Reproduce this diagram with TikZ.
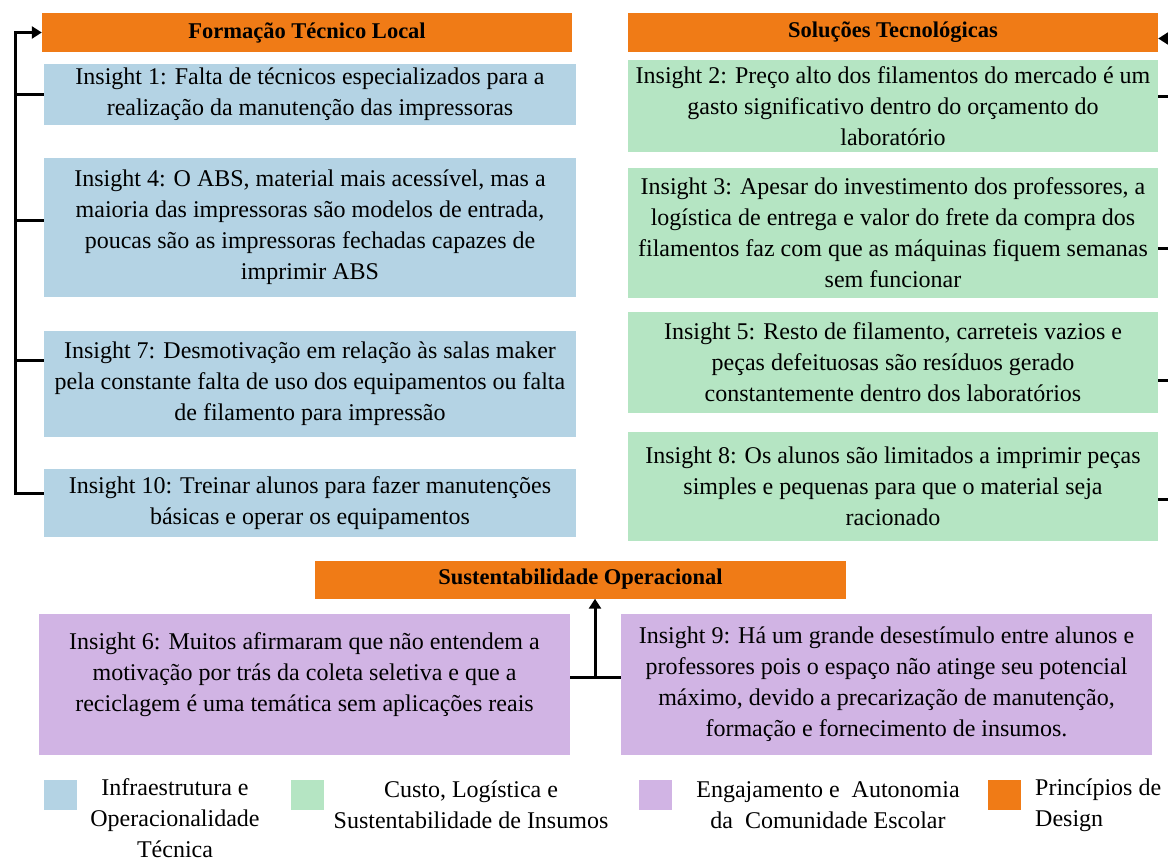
\documentclass[tikz,border=0pt]{standalone}
\usepackage{fontspec}
\setmainfont{Liberation Serif}
\usetikzlibrary{arrows.meta,calc}
\definecolor{cblue}{RGB}{180,211,228}
\definecolor{cgreen}{RGB}{181,229,195}
\definecolor{cpurple}{RGB}{209,180,228}
\definecolor{corange}{RGB}{240,123,22}
\begin{document}
\begin{tikzpicture}[x=1pt,y=-1pt,
 box/.style={fill=#1, inner sep=0pt, align=center, font=\fontsize{24}{31}\selectfont},
 btext/.style={inner sep=0pt, align=center, font=\fontsize{24}{31}\selectfont},
 hdr/.style={fill=corange, inner sep=0pt, minimum height=39pt, font=\fontsize{22.5}{26}\selectfont\bfseries},
 lsq/.style={fill=#1, inner sep=0pt, minimum width=33pt, minimum height=30pt},
 ltext/.style={inner sep=0pt, font=\fontsize{24}{31}\selectfont},
 conn/.style={line width=3pt},
 arr/.style={conn,-{Triangle[length=10pt,width=12pt]}}
]
\useasboundingbox (0,0) rectangle (1168,859);
% headers
\node[hdr, minimum width=530pt] (h1) at (307,32.5) {Formação Técnico Local};
\node[hdr, minimum width=530pt] (h2) at (893,32.5) {Soluções Tecnológicas};
\node[hdr, minimum width=531pt, minimum height=38pt] (h3) at (580.5,579.5) {Sustentabilidade Operacional};
% blue
\node[box=cblue, minimum width=532pt, minimum height=61pt] (b1) at (310,94.5) {Insight 1: Falta de técnicos especializados para a\\realização da manutenção das impressoras};
\node[box=cblue, minimum width=532pt, minimum height=139pt] (b4) at (310,227.5) {Insight 4: O ABS, material mais acessível, mas a\\maioria das impressoras são modelos de entrada,\\poucas são as impressoras fechadas capazes de\\imprimir ABS};
\node[box=cblue, minimum width=532pt, minimum height=106pt] (b7) at (310,384) {Insight 7: Desmotivação em relação às salas maker\\pela constante falta de uso dos equipamentos ou falta\\de filamento para impressão};
\node[box=cblue, minimum width=532pt, minimum height=68pt] (b10) at (310,503) {Insight 10: Treinar alunos para fazer manutenções\\básicas e operar os equipamentos};
% green
\node[box=cgreen, minimum width=530pt, minimum height=92pt] (g2) at (893,106) {Insight 2: Preço alto dos filamentos do mercado é um\\gasto significativo dentro do orçamento do\\laboratório};
\node[box=cgreen, minimum width=530pt, minimum height=130pt] (g3) at (893,233) {Insight 3: Apesar do investimento dos professores, a\\logística de entrega e valor do frete da compra dos\\filamentos faz com que as máquinas fiquem semanas\\sem funcionar};
\node[box=cgreen, minimum width=530pt, minimum height=101pt] (g5) at (893,362.5) {Insight 5: Resto de filamento, carreteis vazios e\\peças defeituosas são resíduos gerado\\constantemente dentro dos laboratórios};
\node[box=cgreen, minimum width=530pt, minimum height=109pt] (g8) at (893,486.5) {Insight 8: Os alunos são limitados a imprimir peças\\simples e pequenas para que o material seja\\racionado};
% purple
\node[box=cpurple, minimum width=531pt, minimum height=141pt] (p6) at (304.5,684.5) {};
\node[btext] (p6t) at (304.5,675) {Insight 6: Muitos afirmaram que não entendem a\\motivação por trás da coleta seletiva e que a\\reciclagem é uma temática sem aplicações reais};
\node[box=cpurple, minimum width=531pt, minimum height=141pt] (p9) at (886.5,684.5) {Insight 9: Há um grande desestímulo entre alunos e\\professores pois o espaço não atinge seu potencial\\máximo, devido a precarização de manutenção,\\formação e fornecimento de insumos.};
% left connectors
\coordinate (ltop) at (15,32.5);
\coordinate (lbot) at (15,493);
\draw[arr] ([yshift=10pt]b10.west) -- (lbot) -- (ltop) -- (h1.west);
\draw[conn] (b1.west) -- ++(-29,0);
\draw[conn] ([yshift=7.5pt]b4.west) -- ++(-29,0);
\draw[conn] ([yshift=24pt]b7.west) -- ++(-29,0);
% right connectors
\coordinate (rtop) at (1185,38.5);
\draw[arr] (rtop) -- ([yshift=-6pt]h2.east);
\draw[conn] ([yshift=9pt]g2.east) -- ++(25,0);
\draw[conn] ([yshift=-15pt]g3.east) -- ++(25,0);
\draw[conn] ([yshift=-17.5pt]g5.east) -- ++(25,0);
\draw[conn] ([yshift=-12.5pt]g8.east) -- ++(25,0);
% middle connector
\coordinate (mj) at (595,677);
\draw[conn] (p6.east |- mj) -- (p9.west |- mj);
\draw[arr] (mj) -- (h3.south -| mj);
% legend
\node[lsq=cblue] (l1) at (60.5,795) {};
\node[lsq=cgreen] (l2) at (307.5,795) {};
\node[lsq=cpurple] (l3) at (655,795) {};
\node[lsq=corange] (l4) at (1004.5,795) {};
\node[ltext, align=center] (t1) at (175,818.5) {Infraestrutura e\\Operacionalidade\\Técnica};
\node[ltext, align=center] (t2) at (471,805) {Custo, Logística e\\Sustentabilidade de Insumos};
\node[ltext, align=center] (t3) at (828,805) {Engajamento e\ \ Autonomia\\da\ \ Comunidade Escolar};
\node[ltext, align=left, anchor=west] (t4) at (1035,805) {Princípios de\\Design};
\end{tikzpicture}
\end{document}
